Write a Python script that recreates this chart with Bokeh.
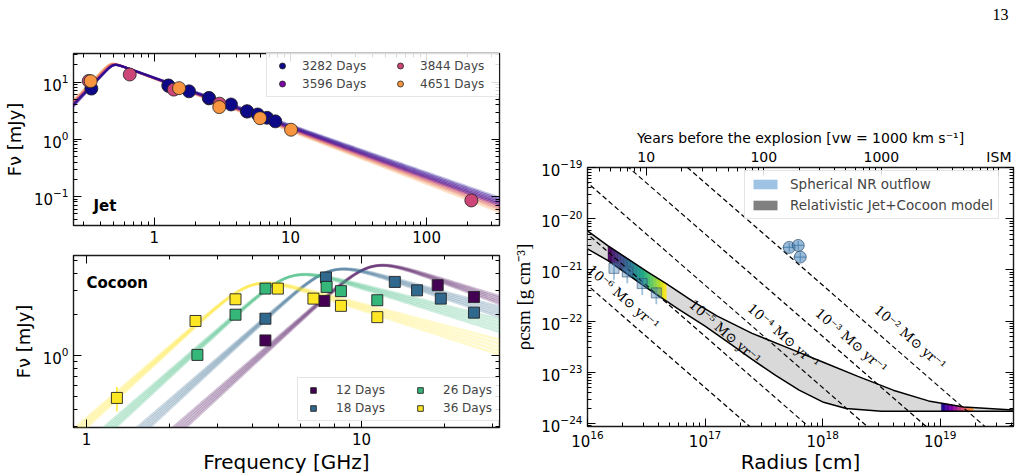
import numpy as np
from bokeh.plotting import figure
from bokeh.models import (LogAxis, FixedTicker, Range1d, LogScale, Label, Legend, LegendItem,
                          PrintfTickFormatter)
from bokeh.layouts import row, column
from bokeh.embed import file_html
from bokeh.resources import INLINE
from bokeh.palettes import Viridis256, Plasma256

# ---------------- data: jet (top-left) ----------------
jet_epochs = ["3282 Days", "3596 Days", "3844 Days", "4651 Days"]
jet_colors = ["#0d0887", "#7e03a8", "#cc4778", "#f89540"]
jet_freq = {
    "3282 Days": [0.345, 1.27, 1.80, 2.52, 3.66, 4.80, 5.75, 6.73, 7.74],
    "3596 Days": [1.27, 2.52, 4.80],
    "3844 Days": [0.33, 0.66, 1.39, 3.01, 213.0],
    "4651 Days": [0.341, 1.52, 3.00, 5.98, 10.1],
}
jet_flux = {
    "3282 Days": [7.7, 8.75, 6.9, 5.3, 4.07, 3.1, 2.72, 2.38, 2.06],
    "3596 Days": [8.6, 5.2, 3.05],
    "3844 Days": [10.5, 13.6, 7.4, 4.2, 0.085],
    "4651 Days": [10.4, 7.85, 3.66, 2.34, 1.47],
}
jet_nu_peak = [0.50, 0.50, 0.49, 0.48]
jet_F_peak = [21.5, 21.5, 22.0, 22.5]
jet_alpha_thick = [2.5, 2.5, 2.5, 2.5]
jet_alpha_thin = [-0.85, -0.86, -0.88, -0.90]
jet_slope_spread = [-0.02, -0.01, 0.0, 0.01, 0.02]

# ---------------- data: cocoon (bottom-left) ----------------
coc_epochs = ["12 Days", "18 Days", "26 Days", "36 Days"]
coc_colors = ["#440154", "#31688e", "#35b779", "#fde725"]
coc_freq = {
    "12 Days": [4.47, 7.32, 18.9, 25.6],
    "18 Days": [4.47, 7.42, 13.2, 15.9, 19.4, 25.6],
    "26 Days": [2.53, 3.48, 4.47, 7.46, 8.41, 11.4],
    "36 Days": [1.29, 2.49, 3.48, 4.96, 6.68, 8.41, 11.4],
}
coc_flux = {
    "12 Days": [1.29, 2.51, 3.27, 2.68],
    "18 Days": [1.86, 3.73, 3.46, 3.00, 2.61, 2.06],
    "26 Days": [1.01, 1.99, 3.09, 3.18, 2.96, 2.54],
    "36 Days": [0.489, 1.79, 2.58, 3.09, 2.61, 2.31, 1.91],
}
coc_err = {
    "12 Days": [0.10, 0.10, 0.12, 0.12],
    "18 Days": [0.08, 0.12, 0.12, 0.10, 0.10, 0.10],
    "26 Days": [0.08, 0.08, 0.10, 0.12, 0.10, 0.08],
    "36 Days": [0.10, 0.06, 0.08, 0.10, 0.08, 0.08, 0.08],
}
coc_nu_break = [10.8, 7.7, 5.5, 4.0]
coc_F_break = [5.3, 4.95, 4.5, 3.9]
coc_alpha_thick = [1.8, 1.8, 1.8, 1.8]
coc_alpha_thin = [-0.68, -0.61, -0.57, -0.59]
coc_slope_spread = [-0.06, -0.03, 0.0, 0.03, 0.06]

# ---------------- data: CSM density (right) ----------------
mdot_values = [1e-6, 1e-5, 1e-4, 1e-3, 1e-2]          # Msun / yr
mdot_labels = ["10⁻⁶ M⊙ yr⁻¹", "10⁻⁵ M⊙ yr⁻¹", "10⁻⁴ M⊙ yr⁻¹", "10⁻³ M⊙ yr⁻¹", "10⁻² M⊙ yr⁻¹"]
mdot_label_r = [2.02e16, 1.48e17, 4.67e17, 1.76e18, 5.57e18]
mdot_label_rho = [2.95e-22, 6.2e-23, 5.2e-23, 4.17e-23, 4.8e-23]
v_wind_kms = 1000.0
band_upper_logr = [16.0, 16.175, 16.51, 16.67, 16.9, 17.1, 17.4, 17.7, 18.0, 18.3, 18.6, 18.9, 19.2, 19.62]
band_upper_logrho = [-20.24, -20.53, -21.04, -21.27, -21.62, -21.90, -22.24, -22.52, -22.80, -23.08, -23.35, -23.56, -23.68, -23.74]
band_lower_logr = [16.0, 16.175, 16.51, 16.77, 17.0, 17.2, 17.4, 17.6, 17.8, 18.0, 18.2, 18.5, 19.62]
band_lower_logrho = [-20.59, -20.82, -21.36, -21.76, -22.10, -22.42, -22.75, -23.06, -23.35, -23.58, -23.71, -23.76, -23.76]
cocoon_seg_logr = [16.175, 16.67]
jet_seg_logr = [19.01, 19.28]
nr_circ_r = [5.2e17, 6.2e17, 6.45e17]
nr_circ_rho = [2.75e-21, 3.0e-21, 1.78e-21]
nr_sq_r = [1.68e16, 2.18e16, 2.92e16, 3.85e16]
nr_sq_rho = [1.07e-21, 9.1e-22, 5.4e-22, 3.55e-22]
years_ticks = [10, 100, 1000, 10000]
page_number = "13"

MSUN, YR = 1.989e33, 3.156e7

# ---------------- helpers ----------------
def minor_list(lo, hi):
    out = []
    for k in range(int(np.floor(np.log10(lo))) - 1, int(np.ceil(np.log10(hi))) + 1):
        for m in range(2, 10):
            v = m * 10.0 ** k
            if lo <= v <= hi:
                out.append(v)
    return out

def style_axis(ax, show=True, size="15px"):
    ax.major_tick_in = 8
    ax.major_tick_out = 0
    ax.minor_tick_in = 4
    ax.minor_tick_out = 0
    ax.axis_line_color = None
    ax.major_tick_line_color = "black"
    ax.minor_tick_line_color = "black"
    ax.major_tick_line_width = 1
    ax.minor_tick_line_width = 1
    ax.major_label_text_font = "DejaVu Sans"
    ax.major_label_text_color = "black"
    ax.axis_label_text_font_style = "normal"
    ax.axis_label_text_color = "black"
    if show:
        ax.major_label_text_font_size = size
        ax.major_label_standoff = 5
    else:
        ax.major_label_text_font_size = "2px"
        ax.major_label_text_alpha = 0.0
        ax.major_label_standoff = 0

def make_fig(w, h, xr, yr, mb):
    p = figure(width=w, height=h, x_axis_type="log", y_axis_type="log",
               x_range=xr, y_range=yr, output_backend="svg", toolbar_location=None,
               min_border_left=mb[0], min_border_right=mb[1],
               min_border_top=mb[2], min_border_bottom=mb[3])
    p.xgrid.visible = False
    p.ygrid.visible = False
    p.outline_line_color = "#1a1a1a"
    p.outline_line_width = 1.4
    p.background_fill_color = "white"
    p.border_fill_color = "white"
    return p

def setup_axes(p, xmaj, ymaj, xr, yr, xfmt=None, top=True):
    xt = FixedTicker(ticks=xmaj, minor_ticks=minor_list(xr.start, xr.end))
    yt = FixedTicker(ticks=ymaj, minor_ticks=minor_list(yr.start, yr.end))
    bx = p.below[0]
    ly = p.left[0]
    bx.ticker = xt
    ly.ticker = yt
    if xfmt is not None:
        bx.formatter = xfmt
    style_axis(bx)
    style_axis(ly)
    ra = LogAxis(ticker=yt)
    style_axis(ra, show=False)
    p.add_layout(ra, "right")
    if top:
        ta = LogAxis(ticker=xt)
        style_axis(ta, show=False)
        p.add_layout(ta, "above")
    return bx, ly

def txt(p, x, y, text, xo, yo, size, font="DejaVu Sans", style="normal", angle=0.0,
        align="left", baseline="alphabetic"):
    p.add_layout(Label(x=x, y=y, x_offset=xo, y_offset=yo, text=text, text_font=font,
                       text_font_size=f"{size}px", text_font_style=style, angle=angle,
                       text_align=align, text_baseline=baseline, text_color="black"))

def bpl(nu, nub, Fb, a1, a2, s):
    x = nu / nub
    return Fb * (x ** (-s * a1) + x ** (-s * a2)) ** (-1.0 / s)

def style_legend(lg, fs, gw, gh, lh, std, lw, sp):
    lg.label_text_font = "DejaVu Sans"
    lg.label_text_font_size = fs
    lg.glyph_width = gw
    lg.glyph_height = gh
    lg.label_height = lh
    lg.label_standoff = std
    if lw:
        lg.label_width = lw
    lg.spacing = sp
    lg.padding = 5
    lg.margin = 0
    lg.border_line_color = "#cccccc"
    lg.background_fill_alpha = 0.85

def flux_label(ax):
    ax.axis_label = "Fν [mJy]"
    ax.axis_label_text_font = "DejaVu Sans"
    ax.axis_label_text_font_size = "18px"
    ax.axis_label_standoff = 6

# ================= top-left: jet =================
x1 = Range1d(0.255, 343)
y1 = Range1d(0.031, 31.7)
p1 = make_fig(510, 252, x1, y1, (72, 11, 53, 27))
bx1, ly1 = setup_axes(p1, [1, 10, 100], [0.1, 1, 10], x1, y1, xfmt=PrintfTickFormatter(format="%d"))
flux_label(ly1)

nu_grid = np.logspace(np.log10(0.2), np.log10(400), 300)
for i in reversed(range(4)):
    xs, ys = [], []
    for ds in jet_slope_spread:
        xs.append(nu_grid)
        ys.append(bpl(nu_grid, jet_nu_peak[i], jet_F_peak[i], jet_alpha_thick[i] - 4 * ds,
                      jet_alpha_thin[i] + ds, 8.0))
    p1.multi_line(xs, ys, line_color=jet_colors[i], line_alpha=0.25, line_width=2.2)

jet_r = {}
order = ["3596 Days", "3282 Days", "3844 Days", "4651 Days"]
for e in order:
    c = jet_colors[jet_epochs.index(e)]
    jet_r[e] = p1.scatter(jet_freq[e], jet_flux[e], size=13, marker="circle", fill_color=c,
                          line_color="#222222", line_width=0.8)

leg1 = Legend(items=[LegendItem(label=e, renderers=[jet_r[e]]) for e in jet_epochs],
              location=(193, 128), ncols=2)
style_legend(leg1, "12px", 20, 15, 14, 10, 85, 3)
p1.add_layout(leg1)

txt(p1, 0.255, 0.031, "Jet", 20, 20, 15, style="bold")

# ================= bottom-left: cocoon =================
x2 = Range1d(0.897, 31.7)
y2 = Range1d(0.297, 5.4)
p2 = make_fig(510, 224, x2, y2, (72, 11, 3, 49))
bx2, ly2 = setup_axes(p2, [1, 10], [1], x2, y2, xfmt=PrintfTickFormatter(format="%d"))
flux_label(ly2)
bx2.axis_label = "Frequency [GHz]"
bx2.axis_label_text_font = "DejaVu Sans"
bx2.axis_label_text_font_size = "20px"
bx2.axis_label_standoff = 2

nu2 = np.logspace(np.log10(0.8), np.log10(35), 300)
for i in range(4):
    xs, ys = [], []
    for ds in coc_slope_spread:
        xs.append(nu2)
        ys.append(bpl(nu2, coc_nu_break[i], coc_F_break[i], coc_alpha_thick[i] + ds,
                      coc_alpha_thin[i] + ds, 4.0))
    p2.multi_line(xs, ys, line_color=coc_colors[i], line_alpha=0.24, line_width=2.6)

coc_r = {}
for i, e in enumerate(coc_epochs):
    c = coc_colors[i]
    f = np.array(coc_freq[e])
    fl = np.array(coc_flux[e])
    er = np.array(coc_err[e])
    p2.segment(f, fl - er, f, fl + er, line_color=c, line_width=1.5)
    coc_r[e] = p2.scatter(f, fl, size=11, marker="square", fill_color=c,
                          line_color="#222222", line_width=0.9)

leg2 = Legend(items=[LegendItem(label=e, renderers=[coc_r[e]]) for e in coc_epochs],
              location=(224, 6), ncols=2)
style_legend(leg2, "12px", 20, 14, 14, 13, 70, 4)
p2.add_layout(leg2)

txt(p2, 0.897, 0.297, "Cocoon", 13, 145, 15, style="bold")

# ================= page-number strip =================
pn = figure(width=520, height=24, x_range=Range1d(0, 520), y_range=Range1d(0, 24),
            output_backend="svg", toolbar_location=None, x_axis_location=None,
            y_axis_location=None, min_border=0)
pn.xgrid.visible = False
pn.ygrid.visible = False
pn.outline_line_color = None
pn.background_fill_color = "white"
pn.border_fill_color = "white"
pn.add_layout(Label(x=504, y=10.3, text=page_number, text_align="center", text_baseline="middle",
                    text_font="Liberation Serif", text_font_size="16px", text_color="black"))

# ================= right: CSM density =================
x3 = Range1d(1e16, 4.2e19)
y3 = Range1d(10 ** -24.06, 1e-19)
p3 = make_fig(520, 452, x3, y3, (76, 17, 143, 48))
bx3, ly3 = setup_axes(p3, [1e16, 1e17, 1e18, 1e19], [1e-24, 1e-23, 1e-22, 1e-21, 1e-20, 1e-19],
                      x3, y3, top=False)
bx3.axis_label = "Radius [cm]"
bx3.axis_label_text_font = "DejaVu Sans"
bx3.axis_label_text_font_size = "20px"
bx3.axis_label_standoff = 0
bx3.major_label_standoff = 3
ly3.axis_label = "ρcsm [g cm⁻³]"
ly3.axis_label_text_font = "Liberation Serif"
ly3.axis_label_text_font_size = "19px"
ly3.axis_label_standoff = 4

cm_per_year = v_wind_kms * 1e5 * YR
p3.extra_x_ranges = {"yrs": Range1d(x3.start / cm_per_year, x3.end / cm_per_year)}
p3.extra_x_scales = {"yrs": LogScale()}
yax = LogAxis(x_range_name="yrs",
              ticker=FixedTicker(ticks=years_ticks,
                                 minor_ticks=minor_list(x3.start / cm_per_year, 9000)),
              formatter=PrintfTickFormatter(format="%d"))
style_axis(yax, size="14px")
yax.major_label_standoff = 3
yax.major_label_overrides = {10000: "ISM"}
yax.axis_label = "Years before the explosion [vw = 1000 km s⁻¹]"
yax.axis_label_text_font = "DejaVu Sans"
yax.axis_label_text_font_size = "14px"
yax.axis_label_standoff = 0
p3.add_layout(yax, "above")

# grey model band
up_r = [10 ** v for v in band_upper_logr]
up_d = [10 ** v for v in band_upper_logrho]
lo_r = [10 ** v for v in band_lower_logr]
lo_d = [10 ** v for v in band_lower_logrho]
p3.patch(up_r + lo_r[::-1], up_d + lo_d[::-1], fill_color="#d9d9d9", line_color=None)

def strips(lr0, lr1, pal, n, frac):
    edges = np.linspace(lr0, lr1, n + 1)
    mids = 0.5 * (edges[:-1] + edges[1:])
    top = np.interp(mids, band_upper_logr, band_upper_logrho)
    bot = np.interp(mids, band_lower_logr, band_lower_logrho)
    cols = [pal[int(k / (n - 1) * frac * 255)] for k in range(n)]
    p3.quad(left=10 ** edges[:-1], right=10 ** edges[1:], top=10 ** top, bottom=10 ** bot,
            fill_color=cols, line_color=cols, line_width=0.5)

strips(cocoon_seg_logr[0], cocoon_seg_logr[1], Viridis256, 40, 1.0)
strips(jet_seg_logr[0], jet_seg_logr[1], Plasma256, 24, 0.78)

p3.line(up_r, up_d, line_color="black", line_width=1.5)
p3.line(lo_r, lo_d, line_color="black", line_width=1.5)

# wind dashed lines
rr = np.array([1e15, 1e21])
for md in mdot_values:
    rho = md * MSUN / YR / (4 * np.pi * rr ** 2 * v_wind_kms * 1e5)
    p3.line(rr, rho, line_color="black", line_width=1.2, line_dash="5 3")

for lab, lr, ld in zip(mdot_labels, mdot_label_r, mdot_label_rho):
    p3.add_layout(Label(x=lr, y=ld, text=lab, angle=-0.72, text_align="center",
                        text_baseline="middle", text_font="DejaVu Serif",
                        text_font_size="13.5px", text_color="black"))

# NR outflow points
sq_r = np.array(nr_sq_r)
sq_d = np.array(nr_sq_rho)
p3.segment(sq_r, sq_d * 0.6, sq_r, sq_d * 1.3, line_color="steelblue", line_alpha=0.5, line_width=1.8)
p3.scatter(sq_r, sq_d, size=10, marker="square", fill_color="steelblue", fill_alpha=0.4,
           line_color="#2f4f6f", line_alpha=0.6)
cr = np.array(nr_circ_r)
cd = np.array(nr_circ_rho)
p3.segment(cr * 0.88, cd, cr * 1.12, cd, line_color="steelblue", line_alpha=0.8, line_width=1.2)
p3.segment(cr, cd * 0.82, cr, cd * 1.22, line_color="steelblue", line_alpha=0.8, line_width=1.2)
p3.scatter(cr, cd, size=12, marker="circle", fill_color="steelblue", fill_alpha=0.55,
           line_color="#2f4f6f", line_alpha=0.7)

# legend renderers (off-screen sample boxes)
r_nr = p3.quad(left=[1e10], right=[2e10], top=[1e-30], bottom=[2e-31], fill_color="#9ec3e3", line_color=None)
r_mod = p3.quad(left=[1e10], right=[2e10], top=[1e-30], bottom=[2e-31], fill_color="#808080", line_color=None)
leg3 = Legend(items=[LegendItem(label="Spherical NR outflow", renderers=[r_nr]),
                     LegendItem(label="Relativistic Jet+Cocoon model", renderers=[r_mod])],
              location=(157, 207))
style_legend(leg3, "13.5px", 30, 12, 16, 10, None, 5)
p3.add_layout(leg3)

layout = row(column(p1, p2), column(pn, p3))
open("out.html", "w").write(file_html(layout, INLINE))
